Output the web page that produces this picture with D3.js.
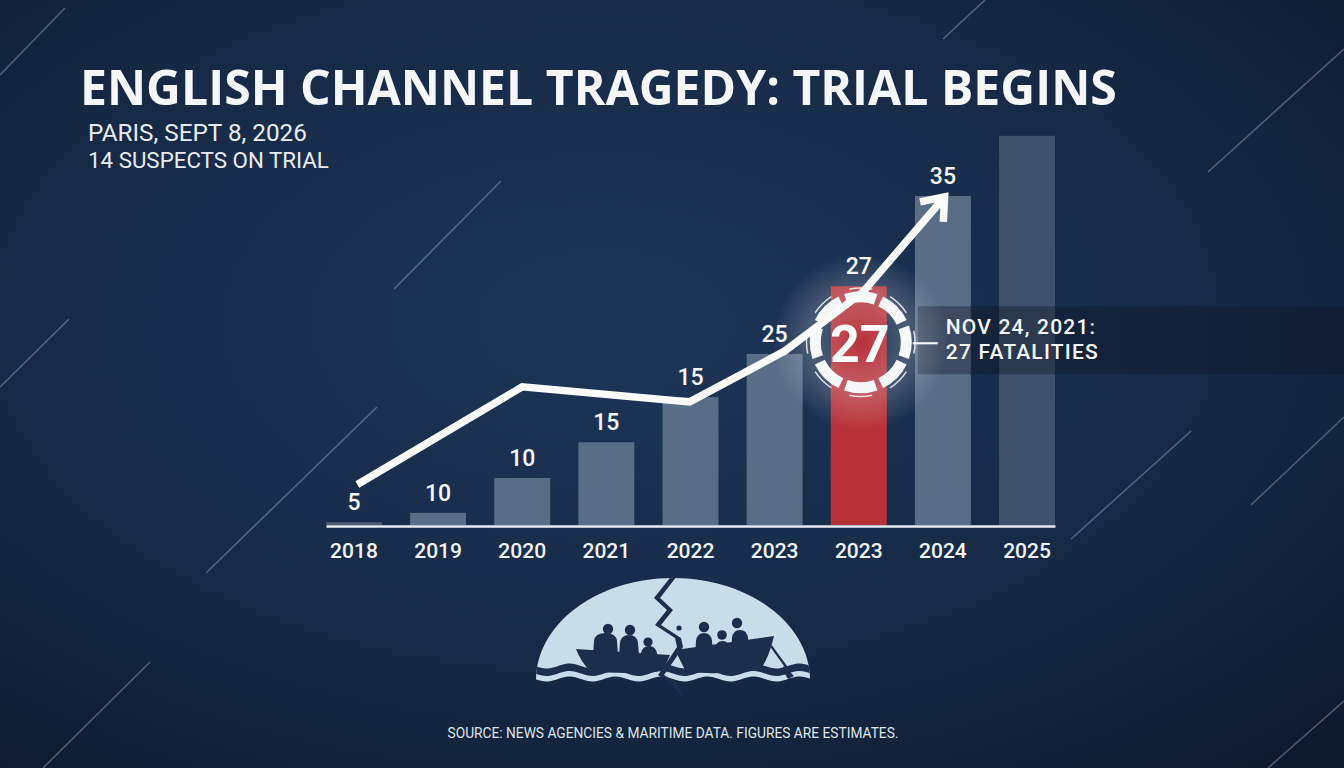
<!DOCTYPE html>
<html><head><meta charset="utf-8">
<script src="https://cdn.jsdelivr.net/npm/d3@7"></script>
<style>html,body{margin:0;padding:0;background:#13233d;overflow:hidden}svg{display:block}</style>
</head><body>
<svg id="chart" width="1344" height="768"></svg>
<script>
// ---------- data ----------
const categories = ["2018","2019","2020","2021","2022","2023","2023","2024","2025"];
const barValues  = [0.3, 1.3, 5.0, 8.8, 13.6, 18.2, 25.4, 35.0, 41.4];
const barLabels  = ["5","10","10","15","15","25","27","35",""];
const highlightIndex = 6;
const trendIndex  = [0.04, 2.0, 3.99, 5.12, 6.05, 7.02];
const trendValues = [4.3, 14.7, 13.1, 18.5, 24.8, 34.9];
const titleText = "ENGLISH CHANNEL TRAGEDY: TRIAL BEGINS";
const subtitleLines = ["PARIS, SEPT 8, 2026", "14 SUSPECTS ON TRIAL"];
const calloutBig = "27";
const calloutLines = ["NOV 24, 2021:", "27 FATALITIES"];
const sourceText = "SOURCE: NEWS AGENCIES & MARITIME DATA. FIGURES ARE ESTIMATES.";

// ---------- setup ----------
const W = 1344, H = 768;
const svg = d3.select("#chart");
const defs = svg.append("defs");
const FONT = "'Open Sans', 'Noto Sans', sans-serif";
const FONT2 = "Roboto, 'Noto Sans', sans-serif";

const bg = defs.append("radialGradient").attr("id","bg").attr("cx","45%").attr("cy","42%").attr("r","75%");
bg.append("stop").attr("offset","0%").attr("stop-color","#1e3558");
bg.append("stop").attr("offset","55%").attr("stop-color","#172b48");
bg.append("stop").attr("offset","100%").attr("stop-color","#0e1b2f");
svg.append("rect").attr("width",W).attr("height",H).attr("fill","url(#bg)");

// streaks
const streaks = [[0,75,65,8],[394,289,501,181],[0,387,69,319],[206,573,377,407],[943,39,985,0],
  [1208,172,1344,49],[1071,539,1191,431],[1251,505,1344,417],[1268,768,1344,701],[43,768,150,662]];
svg.append("g").selectAll("line").data(streaks).join("line")
  .attr("x1",d=>d[0]).attr("y1",d=>d[1]).attr("x2",d=>d[2]).attr("y2",d=>d[3])
  .attr("stroke","rgba(190,210,235,0.35)").attr("stroke-width",1.6);

function fitWidth(sel, target){
  const w = sel.node().getComputedTextLength();
  const fs = parseFloat(sel.attr("font-size"));
  sel.attr("font-size", fs*target/w);
}

// ---------- titles ----------
const title = svg.append("text").attr("x",80).attr("y",105).attr("font-family",FONT)
  .attr("font-weight",700).attr("font-size",44).attr("fill","#f4f6f9").text(titleText);
fitWidth(title, 1037);
const subW = [219, 241];
const sub = svg.append("text").attr("font-family",FONT2).attr("font-weight",400).attr("fill","#e8ecf2");
subtitleLines.forEach((s,i)=>{
  const t = sub.append("tspan").attr("x",88).attr("y",141+27*i).attr("font-size",21).text(s);
  fitWidth(t, subW[i]);
});

// ---------- scales ----------
const x = d3.scaleBand().domain(d3.range(categories.length)).range([326,1055]).paddingInner(0.335).paddingOuter(0);
const y = d3.scaleLinear().domain([0,35]).range([525,196]);
const bw = x.bandwidth();
const xi = d3.scaleLinear().domain([0,categories.length-1]).range([x(0)+bw/2, x(categories.length-1)+bw/2]);

// ---------- bars ----------
const barFill = i => i===highlightIndex ? "#b8323a" : (i===8 ? "#3f516b" : (i===0 ? "#4a5b73" : "#5a6d86"));
svg.append("g").selectAll("rect").data(barValues).join("rect")
  .attr("x",(d,i)=>x(i)).attr("y",d=>y(d)).attr("width",bw).attr("height",d=>y(0)-y(d))
  .attr("fill",(d,i)=>barFill(i));

// callout box
const hx = x(highlightIndex)+bw/2+2;
const hy = y(barValues[highlightIndex])+56;
svg.append("rect").attr("x",hx+57).attr("y",hy-36).attr("width",W-(hx+57)).attr("height",68)
  .attr("fill","rgba(12,22,38,0.38)");

// bar value labels
svg.append("g").selectAll("text").data(barLabels).join("text")
  .attr("x",(d,i)=>x(i)+bw/2).attr("y",(d,i)=>y(barValues[i])-12)
  .attr("text-anchor","middle").attr("font-family",FONT2).attr("font-weight",500)
  .attr("font-size",23).attr("fill","#f4f6f9").text(d=>d);

// axis
const axis = svg.append("g").attr("transform",`translate(0,${y(0)+1})`)
  .call(d3.axisBottom(x).tickSize(0).tickSizeOuter(0).tickPadding(17).tickFormat(i=>categories[i]));
axis.select(".domain").attr("stroke","#e9edf3").attr("stroke-width",2.6);
axis.selectAll("text").attr("font-family",FONT2).attr("font-size",21).attr("font-weight",500).attr("fill","#f1f4f8");

// glow
const gl = defs.append("radialGradient").attr("id","glow");
gl.append("stop").attr("offset","0%").attr("stop-color","#fff").attr("stop-opacity",0.0);
gl.append("stop").attr("offset","55%").attr("stop-color","#dfe8f3").attr("stop-opacity",0.24);
gl.append("stop").attr("offset","100%").attr("stop-color","#fff").attr("stop-opacity",0);
svg.append("circle").attr("cx",hx).attr("cy",hy).attr("r",88).attr("fill","url(#glow)");

// ring
const ringG = svg.append("g").attr("transform",`translate(${hx},${hy})`);
const nSeg = 8, gap = 0.12;
const segs = d3.range(nSeg).map(k=>({s:k*2*Math.PI/nSeg+gap/2 - Math.PI/8, e:(k+1)*2*Math.PI/nSeg-gap/2 - Math.PI/8}));
ringG.selectAll("path.seg").data(segs).join("path").attr("class","seg")
  .attr("d",d=>d3.arc()({innerRadius:40,outerRadius:51,startAngle:d.s,endAngle:d.e}))
  .attr("fill","#f6f7f9");
ringG.selectAll("path.outer").data(segs).join("path").attr("class","outer")
  .attr("d",d=>d3.arc()({innerRadius:53.5,outerRadius:55,startAngle:d.s+0.12,endAngle:d.e-0.12}))
  .attr("fill","#f6f7f9").attr("opacity",0.85);
svg.append("line").attr("x1",hx+52).attr("x2",hx+77).attr("y1",hy+1).attr("y2",hy+1)
  .attr("stroke","#f1f4f8").attr("stroke-width",2.2);

// trend line
const pts = trendIndex.map((t,i)=>[xi(t), y(trendValues[i])]);
svg.append("path").attr("d",d3.line()(pts)).attr("fill","none").attr("stroke","#fbfbfc")
  .attr("stroke-width",7.5).attr("stroke-linejoin","miter");
const p1 = pts[pts.length-2], p2 = pts[pts.length-1];
const ang = Math.atan2(p1[1]-p2[1], p1[0]-p2[0]);
const aL = 25, aS = 0.66;
const arm = s=>[p2[0]+aL*Math.cos(ang+s), p2[1]+aL*Math.sin(ang+s)];
svg.append("path").attr("d",d3.line()([arm(aS), p2, arm(-aS)])).attr("fill","none")
  .attr("stroke","#fbfbfc").attr("stroke-width",7.5).attr("stroke-linejoin","miter").attr("stroke-miterlimit",10);

// big number
svg.append("text").attr("x",hx-1).attr("y",hy+20).attr("text-anchor","middle").attr("font-family",FONT2)
  .attr("font-weight",700).attr("font-size",52).attr("fill","#fbfbfc").text(calloutBig);

// callout text
const co = svg.append("text").attr("font-family",FONT2).attr("font-weight",500).attr("fill","#f4f6f9")
  .attr("font-size",21).attr("letter-spacing",1.2);
calloutLines.forEach((s,i)=>{
  co.append("tspan").attr("x",hx+85).attr("y",hy-8+25*i).text(s);
});

// ---------- boat icon ----------
const ic = svg.append("g").attr("transform","translate(673,680)");
const light = "#c9dcea", dark = "#1b2f4d";
const waveLine = (x0,x1,yb,amp,per) => { const p=[]; for(let xx=x0; xx<=x1; xx+=2) p.push([xx, yb+amp*Math.sin(xx/per*2*Math.PI)]); return p; };
const semiBottom = waveLine(-137,137,-1,2.5,46).reverse();
const semiTop = d3.range(0,181,3).map(a=>[-137*Math.cos(a*Math.PI/180), -102*Math.sin(a*Math.PI/180)]);
const semiD = d3.line()(semiTop.concat(semiBottom))+"Z";
ic.append("path").attr("d",semiD).attr("fill",light);
defs.append("clipPath").attr("id","semi").append("path").attr("d",semiD);
const seaTop = waveLine(-137,137,-14,2.5,46);
const seaBot = waveLine(-137,137,-6.5,2.5,46).reverse();
ic.append("path").attr("d",d3.line()(seaTop.concat(seaBot))+"Z").attr("fill",dark).attr("clip-path","url(#semi)");
// hulls
ic.append("path").attr("d","M-97,-31 L-3,-25 L-10,-9 Q-48,-5 -83,-9 Q-92,-18 -97,-31Z").attr("fill",dark);
ic.append("path").attr("d","M2,-30 L101,-44 Q96,-22 87,-10 Q50,-5 13,-8 Z").attr("fill",dark);
// people: head x, head y, head r, body left, body right, body top
const people = [[-65,-51,5.2,-80,-55,-47],[-43,-50,5.2,-54,-34,-45],[-25,-38,4.6,-33,-15,-34],
                [31,-53,5.2,22,40,-47],[49,-45,4.8,41,58,-39],[64,-57,5.2,58,76,-50]];
people.forEach(p=>{
  ic.append("circle").attr("cx",p[0]).attr("cy",p[1]).attr("r",p[2]).attr("fill",dark);
  const l=p[3], r=p[4], t=p[5], m=(l+r)/2;
  ic.append("path").attr("d",`M${l},-24 L${l+1},${t+8} Q${l+2},${t} ${m},${t} Q${r-2},${t} ${r-1},${t+8} L${r},-24Z`).attr("fill",dark);
});
// oar
ic.append("line").attr("x1",98).attr("y1",-34).attr("x2",114).attr("y2",-12).attr("stroke",dark).attr("stroke-width",2.2);
ic.append("path").attr("d","M111,-14 L121,-4 L115,-1 L109,-11Z").attr("fill",dark);
ic.append("circle").attr("cx",6).attr("cy",-52).attr("r",2.6).attr("fill",dark);
// crack
const crack = [[-1,-104],[-16,-82],[-3,-70],[-15,-55],[5,-42],[7,-33],[-3,-18],[-12,-5],[0,2],[10,18]];
const crL = crack.map((p,i)=>[p[0]-(i===0||i===crack.length-1?0.5:3), p[1]]);
const crR = crack.map((p,i)=>[p[0]+(i===0?5:(i===crack.length-1?0.5:3)), p[1]]).reverse();
ic.append("path").attr("d",d3.line()(crL.concat(crR))+"Z").attr("fill",dark);

// source
const src = svg.append("text").attr("x",673).attr("y",738).attr("text-anchor","middle").attr("font-family",FONT2)
  .attr("font-weight",400).attr("font-size",14).attr("fill","#dfe4ec").text(sourceText);
fitWidth(src, 451);
</script>
</body></html>
